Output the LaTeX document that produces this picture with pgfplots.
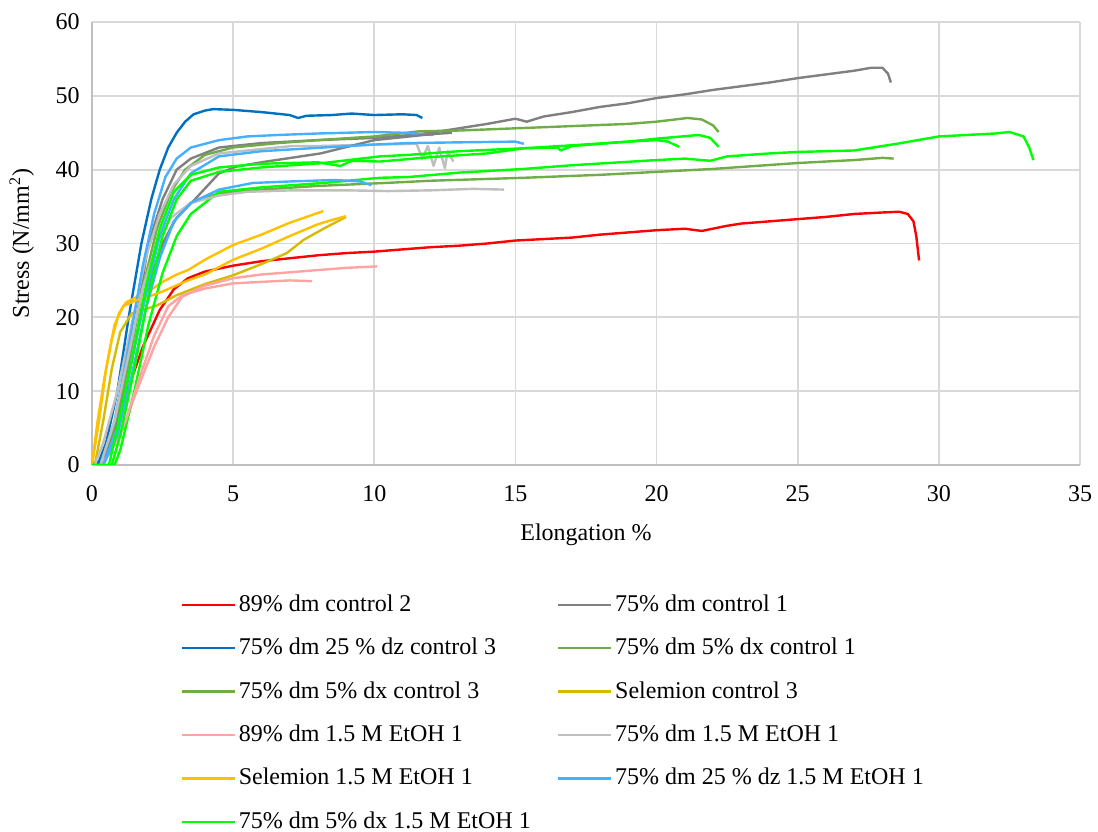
\documentclass[border=0pt]{standalone}
\usepackage{pgfplots}
\pgfplotsset{compat=1.18}
\usepackage{fontspec}
\setmainfont{Liberation Serif}
\definecolor{cRed}{HTML}{FF0000}
\definecolor{cGray}{HTML}{808080}
\definecolor{cBlue}{HTML}{0070C0}
\definecolor{cOlive}{HTML}{70AD47}
\definecolor{cKhaki}{HTML}{D4BC00}
\definecolor{cPink}{HTML}{FFA3A3}
\definecolor{cLGray}{HTML}{BFBFBF}
\definecolor{cOrange}{HTML}{FFC000}
\definecolor{cLBlue}{HTML}{45B0FF}
\definecolor{cGreen}{HTML}{00FF00}
\definecolor{gridgray}{HTML}{D9D9D9}
\definecolor{axisgray}{HTML}{BFBFBF}
\newcommand{\lb}[1]{\makebox[158pt][l]{#1}}
\begin{document}
\fontsize{12}{14}\selectfont
\begin{tikzpicture}
\begin{axis}[
  name=ax,
  scale only axis, width=494pt, height=221.5pt,
  xmin=0, xmax=35, ymin=0, ymax=60,
  xtick={0,5,...,35}, ytick={0,10,...,60},
  /pgf/number format/assume math mode=true,
  grid=major, major grid style={color=gridgray, line width=0.9pt},
  axis x line*=bottom, axis y line*=left,
  axis line style={-, color=axisgray, line width=1.1pt},
  tick style={draw=none},
  xticklabel style={yshift=-6pt},
  yticklabel style={xshift=-2pt},
  xlabel={Elongation \%},
  ylabel={Stress (N/mm\textsuperscript{2})},
  xlabel style={at={(axis description cs:0.5,-0.158)}, anchor=center},
  ylabel style={at={(axis description cs:-0.071,0.5)}, anchor=center},
  every axis plot/.append style={line width=1.2pt, line join=round},
  legend columns=2,
  legend cell align=left,
  legend image code/.code={\draw[#1] (0pt,0pt) -- (26.5pt,0pt);},
  legend style={draw=none, fill=none, at={(axis description cs:0.0835,-0.274)}, anchor=north west,
    nodes={inner sep=1.25pt, text height=9pt, text depth=2.5pt}, row sep=7.7pt,
    /tikz/every even column/.append style={column sep=0pt}},
]
% 89% dm control 2
\addplot[cRed] coordinates {(0,0.3) (0.4,0.5) (0.8,3.5) (1.25,10) (1.8,16) (2.4,21) (2.9,23.8) (3.4,25.3) (4,26.2) (5,27) (6,27.6) (7,28) (8,28.4) (9,28.7) (10,28.9) (11,29.2) (12,29.5) (13,29.7) (14,30) (15,30.4) (16,30.6) (17,30.8) (18,31.2) (19,31.5) (20,31.8) (21,32) (21.6,31.7) (22.5,32.4) (23,32.7) (24,33) (25,33.3) (26,33.6) (27,34) (28,34.2) (28.6,34.3) (28.9,34) (29.1,33) (29.2,31) (29.3,27.7)};
\addlegendentry{\lb{89\% dm control 2}}
% 75% dm control 1
\addplot[cGray] coordinates {(0.2,0) (0.5,2) (1,8) (1.5,18) (2,30) (2.5,36) (3,40) (3.5,41.5) (4.5,43) (6,43.6) (8,44) (10,44.3) (11,44.6) (12,45) (13,45.6) (14,46.2) (15,46.9) (15.4,46.5) (16,47.2) (17,47.8) (18,48.5) (19,49) (20,49.7) (21,50.2) (22,50.8) (23,51.3) (24,51.8) (25,52.4) (26,52.9) (27,53.4) (27.6,53.8) (28,53.8) (28.2,53) (28.3,51.8)};
\addlegendentry{\lb{75\% dm control 1}}
% 75% dm 25% dz control 3
\addplot[cBlue] coordinates {(0.2,0) (0.5,3) (0.9,10) (1.3,20) (1.75,30) (2.1,36) (2.4,40) (2.7,43) (3.0,45) (3.3,46.5) (3.6,47.5) (4,48) (4.3,48.2) (5,48.1) (6,47.8) (7,47.4) (7.3,47.0) (7.6,47.3) (8.5,47.4) (9.2,47.6) (10,47.4) (11,47.5) (11.5,47.4) (11.7,47)};
\addlegendentry{\lb{75\% dm 25 \% dz control 3}}
% 75% dm 5% dx control 1
\addplot[cOlive] coordinates {(0.3,0) (0.8,5) (1.3,14) (1.8,24) (2.3,32) (2.8,37) (3.3,40) (4,42) (5,43) (6.6,43.6) (8,44) (10,44.5) (11.6,45.2) (13,45.3) (15,45.6) (17,45.9) (19,46.2) (20,46.5) (21.1,47) (21.6,46.8) (22,46) (22.2,45.1)};
\addlegendentry{\lb{75\% dm 5\% dx control 1}}
% 75% dm 5% dx control 3
\addplot[cOlive] coordinates {(0.3,0) (0.9,5) (1.4,14) (1.9,23) (2.4,29) (2.9,33) (3.5,35.5) (4.5,36.8) (6,37.3) (8,37.8) (10.4,38.2) (12,38.5) (15.3,38.9) (18,39.3) (20,39.7) (22,40.1) (25,40.9) (27,41.3) (28,41.6) (28.4,41.5)};
\addlegendentry{\lb{75\% dm 5\% dx control 3}}
% Selemion control 3
\addplot[cKhaki] coordinates {(0.1,0) (0.4,6) (0.7,13) (1.0,18) (1.4,20.5) (1.8,21) (2.3,21.6) (3,23) (4,24.5) (5,25.7) (6,27.2) (6.9,28.7) (7.5,30.5) (8.2,32) (8.8,33.2) (9.0,33.6)};
\addlegendentry{\lb{Selemion control 3}}
% 89% dm 1.5 M EtOH 1
\addplot[cPink] coordinates {(0.3,0) (0.6,1.5) (1.0,4) (1.64,10.6) (2.2,16) (2.7,20) (3.2,22.8) (4,24.3) (5,25.3) (6,25.8) (7,26.1) (8,26.4) (9,26.7) (10.1,26.9)};
\addlegendentry{\lb{89\% dm 1.5 M EtOH 1}}
% 75% dm 1.5 M EtOH 1
\addplot[cLGray] coordinates {(0.1,0) (0.4,3) (0.9,10) (1.4,19) (1.9,28) (2.4,34) (2.9,38) (3.5,40.5) (4.5,42.2) (6,42.8) (7.1,43.2) (8,43.2) (10,43.4) (11.5,43.5) (11.7,41.5) (11.9,43.2) (12.1,40.5) (12.3,43) (12.5,40.2) (12.6,42.5) (12.8,41.1)};
\addlegendentry{\lb{75\% dm 1.5 M EtOH 1}}
% Selemion 1.5 M EtOH 1
\addplot[cOrange] coordinates {(0,0) (0.2,6) (0.45,12) (0.7,17) (0.95,20.5) (1.2,22) (1.6,22.8) (2,23.5) (2.5,24.8) (3,25.8) (3.4,26.4) (4,27.8) (5,29.8) (6,31.2) (7,32.8) (7.6,33.6) (8.2,34.4)};
\addlegendentry{\lb{Selemion 1.5 M EtOH 1}}
% 75% dm 25% dz 1.5 M EtOH 1
\addplot[cLBlue] coordinates {(0.3,0) (0.8,6) (1.3,16) (1.8,27) (2.2,34) (2.6,39) (3,41.5) (3.5,43) (4.5,44) (5.5,44.5) (6.6,44.7) (8,44.9) (10,45.1) (11,45) (12.1,44.7)};
\addlegendentry{\lb{75\% dm 25 \% dz 1.5 M EtOH 1}}
% 75% dm 5% dx 1.5 M EtOH 1
\addplot[cGreen] coordinates {(0,0) (0.8,0) (1.0,2) (1.5,10) (2,19) (2.5,26) (3,31) (3.5,34) (4.5,37) (6,37.6) (8.2,38.2) (10.2,38.9) (11.2,39) (13,39.6) (15.3,40.1) (17,40.6) (20,41.3) (21,41.5) (21.9,41.2) (22.5,41.8) (24,42.2) (25,42.4) (27,42.6) (28.5,43.5) (30,44.5) (31,44.7) (32,44.9) (32.5,45.1) (33,44.5) (33.2,43) (33.35,41.3)};
\addlegendentry{\lb{75\% dm 5\% dx 1.5 M EtOH 1}}
% further samples (not in legend)
\addplot[cGray, forget plot] coordinates {(0.3,0) (0.8,4) (1.3,12) (1.8,22) (2.5,30) (3,33.5) (3.65,36) (4.5,39.5) (5.1,40.4) (6,41) (8.1,42.2) (10,44) (11,44.4) (12,44.8) (12.75,45)};
\addplot[cOrange, forget plot] coordinates {(0,0) (0.25,6) (0.5,13) (0.8,19) (1.1,21.5) (1.5,22.2) (2,22.8) (2.5,23.5) (3.4,25) (4,25.8) (5,27.8) (6,29.3) (7,31) (8,32.6) (8.6,33.3) (9.0,33.7)};
\addplot[cPink, forget plot] coordinates {(0.3,0) (0.7,2) (1.2,6) (1.7,12) (2.2,17.5) (2.7,21.5) (3.2,23) (4,23.9) (5,24.6) (6,24.8) (7,25) (7.8,24.9)};
\addplot[cLGray, forget plot] coordinates {(0.3,0) (0.8,6) (1.3,15) (1.8,24) (2.3,30) (2.8,33.5) (3.5,35.5) (4.5,36.5) (5.5,37) (7.1,37.2) (9,37.2) (10.5,37.1) (12,37.2) (13.5,37.4) (14.6,37.3)};
\addplot[cLBlue, forget plot] coordinates {(0.4,0) (0.9,5) (1.4,14) (1.9,23) (2.4,31) (2.9,36) (3.5,39.5) (4.5,41.8) (6,42.5) (8.2,43) (10,43.4) (11.2,43.6) (13,43.7) (15,43.8) (15.3,43.5)};
\addplot[cLBlue, forget plot] coordinates {(0.4,0) (0.9,4) (1.4,12) (1.9,21) (2.4,28) (2.9,33) (3.5,35.5) (4.5,37.3) (5.7,38.2) (7,38.4) (8.6,38.6) (9.5,38.4) (9.9,37.9)};
\addplot[cGreen, forget plot] coordinates {(0,0) (0.7,0) (1,4) (1.5,13) (2,23) (2.5,31) (3,36) (3.5,38.5) (4.5,39.7) (6,40.3) (8.2,40.9) (10.2,41.8) (11.2,42) (13,42.5) (15.3,42.9) (17,43.3) (19,43.8) (20,44.2) (21.5,44.7) (21.9,44.3) (22.1,43.5) (22.2,43.1)};
\addplot[cGreen, forget plot] coordinates {(0,0) (0.6,0) (0.9,5) (1.4,14) (1.9,24) (2.4,32) (2.9,37) (3.5,39.3) (4.5,40.3) (6,40.8) (8,41) (8.8,40.5) (9.2,41.2) (10.2,41.1) (12,41.7) (14,42.2) (15.3,42.9) (16.5,43) (16.6,42.6) (17,43.2) (19,43.8) (20,44) (20.4,43.8) (20.8,43.1)};
\end{axis}
\pgfresetboundingbox
\path ([shift={(-46pt,-183.5pt)}]ax.south west) rectangle ([shift={(9pt,11pt)}]ax.north east);
\end{tikzpicture}
\end{document}
